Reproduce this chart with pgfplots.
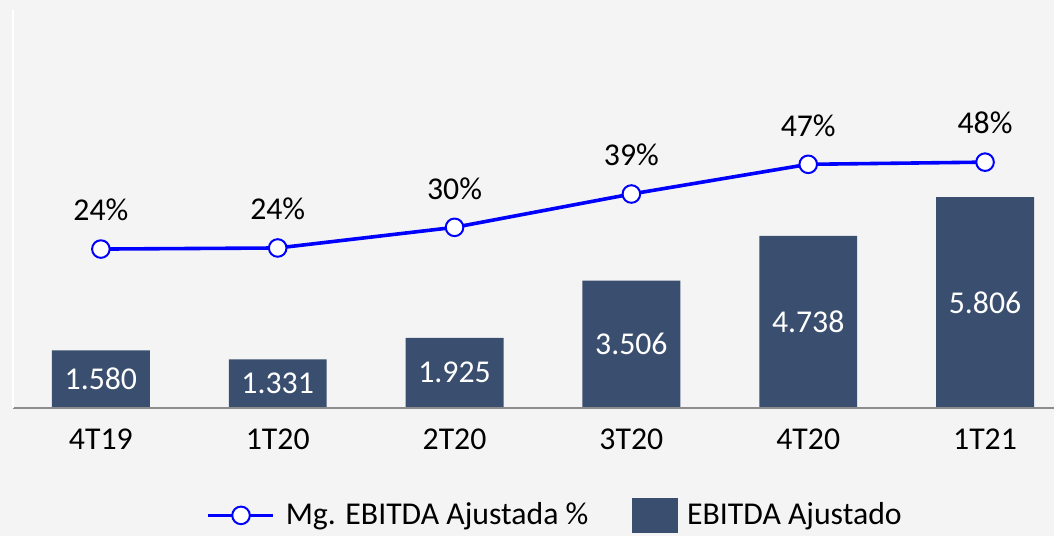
\documentclass[border=0pt]{standalone}
\usepackage{pgfplots}
\pgfplotsset{compat=1.18}
\usepackage{fontspec}
\setmainfont{Carlito}
\definecolor{barc}{RGB}{58,79,111}
\definecolor{linec}{RGB}{0,0,255}
\definecolor{bgc}{RGB}{244,244,244}
\definecolor{axc}{RGB}{140,140,140}
\newcommand{\lbl}{\fontsize{15.9}{18}\selectfont}
\pgfplotsset{
  mylinelegend/.style={legend image code/.code={\draw[##1, mark repeat=2, mark phase=2]
    plot coordinates {(0pt,0pt) (16.5pt,0pt) (32.5pt,0pt)}; \path (36pt,0pt);}},
  mybarlegend/.style={legend image code/.code={\fill[barc] (0pt,-8.5pt) rectangle (22.5pt,8.5pt); \path (25pt,0pt);}},
}
\begin{document}
\begin{tikzpicture}
\fill[bgc] (0,0) rectangle (527.5pt,268pt);
\begin{axis}[
  at={(6.5pt,64pt)}, anchor=south west, scale only axis,
  width=521pt, height=199pt,
  xmin=-0.497, xmax=5.39, ymin=0, ymax=10967,
  axis line style={draw=none},
  xtick={0,1,2,3,4,5},
  xticklabels={4T19,1T20,2T20,3T20,4T20,1T21},
  ytick=\empty, major tick length=0pt,
  xticklabel style={font=\lbl, anchor=center, yshift=-16pt},
  clip=false,
]
\addplot[ybar, bar width=49pt, fill=barc, draw=none] coordinates {
  (0,1580) (1,1331) (2,1925) (3,3506) (4,4738) (5,5806)};
\addplot[draw=none, mark=none, nodes near coords, point meta=explicit symbolic,
  every node near coord/.append style={anchor=center, text=white, font=\lbl}]
  coordinates {
  (0,790) [1.580] (1,665.5) [1.331] (2,962.5) [1.925]
  (3,1753) [3.506] (4,2369) [4.738] (5,2903) [5.806]};
\draw[axc, line width=1pt] (rel axis cs:0,0) -- (rel axis cs:1,0);
\draw[white, line width=1pt] (rel axis cs:0,0) -- (rel axis cs:0,1);
\end{axis}
\begin{axis}[
  at={(6.5pt,64pt)}, anchor=south west, scale only axis,
  width=521pt, height=199pt,
  xmin=-0.497, xmax=5.39, ymin=-19.78, ymax=90.01,
  hide axis, clip=false,
  legend style={at={(0.5216,-0.271)}, anchor=center, draw=none, fill=none,
    legend columns=2, font=\lbl,
    /tikz/every even column/.append style={column sep=20pt}},
]
\addplot[linec, line width=1.8pt, mark=*, mark size=4.4pt,
  mark options={fill=white, draw=linec, line width=1pt},
  nodes near coords, point meta=explicit symbolic,
  every node near coord/.append style={anchor=center, yshift=19.5pt, text=black, font=\lbl},
  mylinelegend]
  coordinates {
  (0,24.0) [24\%] (1,24.3) [24\%] (2,30.0) [30\%]
  (3,39.2) [39\%] (4,47.4) [47\%] (5,48.0) [48\%]};
\addlegendentry{Mg. EBITDA Ajustada \%}
\addlegendimage{mybarlegend}
\addlegendentry{EBITDA Ajustado}
\end{axis}
\end{tikzpicture}
\end{document}
